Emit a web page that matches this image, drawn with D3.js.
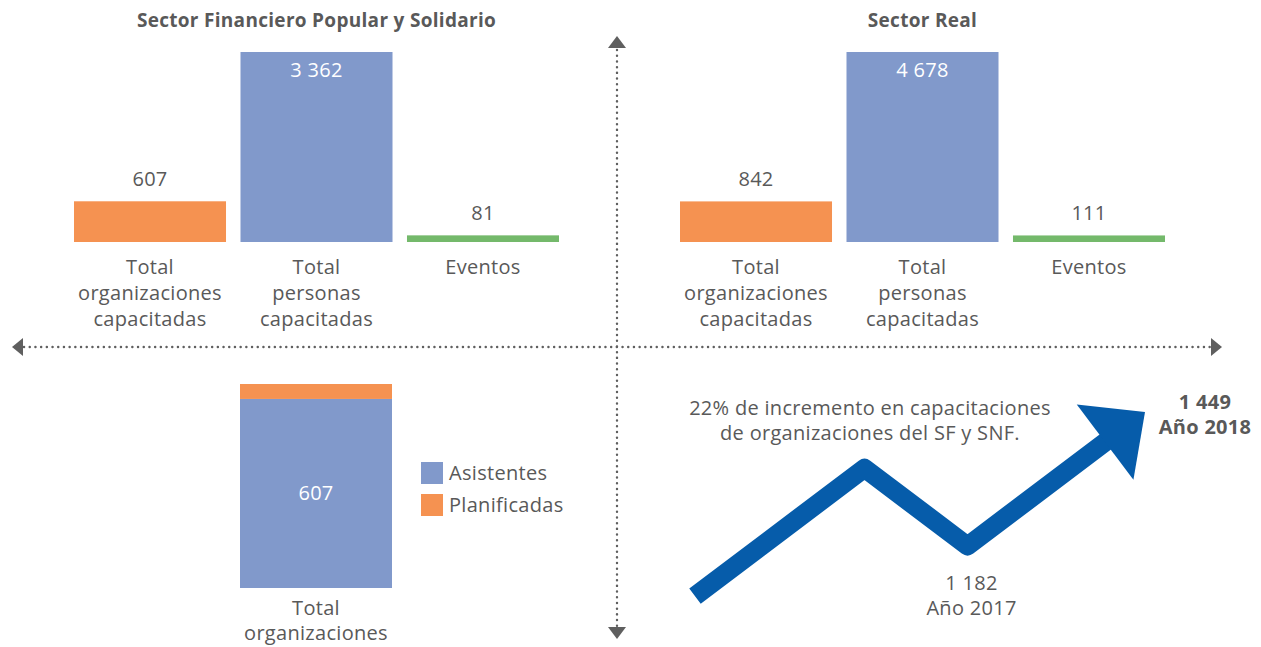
<!DOCTYPE html>
<html>
<head>
<meta charset="utf-8">
<script src="https://cdn.jsdelivr.net/npm/d3@7"></script>
<style>
  body { margin: 0; background: #fff; }
  text { font-family: "Open Sans", "Noto Sans", sans-serif; fill: #595959; letter-spacing: 0.3px; }
</style>
</head>
<body>
<div id="chart"></div>
<script>
// datos
const sectors = ['Sector Financiero Popular y Solidario', 'Sector Real'];
const categories = ['Total organizaciones capacitadas', 'Total personas capacitadas', 'Eventos'];
const categoryLines = [['Total', 'organizaciones', 'capacitadas'], ['Total', 'personas', 'capacitadas'], ['Eventos']];
const sfpsValues = [607, 3362, 81];
const realValues = [842, 4678, 111];
const barColors = ['#f59251', '#8199cb', '#74b96b'];

const stackSeries = ['Asistentes', 'Planificadas'];
const stackValues = [607, 655];
const stackColors = ['#8199cb', '#f59251'];
const stackLabel = ['Total', 'organizaciones'];

const trendValues = [1082, 1337, 1182, 1449];
const trendYears = ['', '', 'Año 2017', 'Año 2018'];
const trendNote = ['22% de incremento en capacitaciones', 'de organizaciones del SF y SNF.'];

const width = 1261;
const height = 647;
const fs = '20px';
const fmt = d3.formatLocale({ decimal: ',', thousands: ' ', grouping: [3], currency: ['$', ''] }).format(',');

const svg = d3.select('#chart')
  .append('svg')
  .attr('width', width)
  .attr('height', height);

// ejes punteados
const axisColor = '#5f5f5f';
const cx = 617, cy = 347;
svg.append('line')
  .attr('x1', 24).attr('x2', 1210).attr('y1', cy).attr('y2', cy)
  .attr('stroke', axisColor).attr('stroke-width', 2.4)
  .attr('stroke-linecap', 'round').attr('stroke-dasharray', '0.1 5.6');
svg.append('line')
  .attr('x1', cx).attr('x2', cx).attr('y1', 50).attr('y2', 626)
  .attr('stroke', axisColor).attr('stroke-width', 2.4)
  .attr('stroke-linecap', 'round').attr('stroke-dasharray', '0.1 5.6');

const heads = [
  [[12, cy], [23, cy - 9], [23, cy + 9]],
  [[1222, cy], [1211, cy - 9], [1211, cy + 9]],
  [[cx, 36], [cx - 9, 48], [cx + 9, 48]],
  [[cx, 639], [cx - 9, 627], [cx + 9, 627]]
];
svg.selectAll('.head')
  .data(heads)
  .enter()
  .append('path')
  .attr('class', 'head')
  .attr('d', d => 'M' + d.join('L') + 'Z')
  .attr('fill', axisColor);

// paneles superiores
const baseline = 242;
const panels = [
  { title: sectors[0], values: sfpsValues, range: [74, 559] },
  { title: sectors[1], values: realValues, range: [680, 1165] }
];

panels.forEach(p => {
  const x = d3.scaleBand().domain(categories).range(p.range).paddingInner(0.087);
  const h = d3.scalePow().exponent(0.9).domain([0, d3.max(p.values)]).range([0, 190]);
  const g = svg.append('g');

  g.append('text')
    .attr('x', (p.range[0] + p.range[1]) / 2)
    .attr('y', 27)
    .attr('text-anchor', 'middle')
    .style('font-size', '19px')
    .style('font-weight', 700)
    .text(p.title);

  const rows = categories.map((c, i) => ({ cat: c, value: p.values[i], color: barColors[i], lines: categoryLines[i] }));

  g.selectAll('rect')
    .data(rows)
    .enter()
    .append('rect')
    .attr('x', d => x(d.cat))
    .attr('width', x.bandwidth())
    .attr('y', d => baseline - h(d.value))
    .attr('height', d => h(d.value))
    .attr('fill', d => d.color);

  g.selectAll('.val')
    .data(rows)
    .enter()
    .append('text')
    .attr('class', 'val')
    .attr('x', d => x(d.cat) + x.bandwidth() / 2)
    .attr('y', d => d.value === d3.max(p.values) ? baseline - h(d.value) + 25 : baseline - h(d.value) - 15)
    .attr('text-anchor', 'middle')
    .style('font-size', fs)
    .style('fill', d => d.value === d3.max(p.values) ? '#fff' : '#595959')
    .text(d => fmt(d.value));

  const lab = g.selectAll('.cat')
    .data(rows)
    .enter()
    .append('text')
    .attr('class', 'cat')
    .attr('text-anchor', 'middle')
    .style('font-size', fs);
  lab.selectAll('tspan')
    .data(d => d.lines.map(l => ({ l, x: x(d.cat) + x.bandwidth() / 2 })))
    .enter()
    .append('tspan')
    .attr('x', d => d.x)
    .attr('y', (d, i) => 274 + i * 26)
    .text(d => d.l);
});

// barra apilada
const sy = d3.scaleLinear().domain([0, stackValues[1]]).range([588, 384]);
const sg = svg.append('g');
const stackRows = [
  { key: stackSeries[0], y0: 0, y1: stackValues[0], color: stackColors[0] },
  { key: stackSeries[1], y0: stackValues[0], y1: stackValues[1], color: stackColors[1] }
];
sg.selectAll('rect')
  .data(stackRows)
  .enter()
  .append('rect')
  .attr('x', 240)
  .attr('width', 152)
  .attr('y', d => sy(d.y1))
  .attr('height', d => sy(d.y0) - sy(d.y1))
  .attr('fill', d => d.color);

sg.append('text')
  .attr('x', 316)
  .attr('y', (sy(0) + sy(stackValues[0])) / 2 + 7)
  .attr('text-anchor', 'middle')
  .style('font-size', fs)
  .style('fill', '#fff')
  .text(fmt(stackValues[0]));

sg.append('text')
  .attr('text-anchor', 'middle')
  .style('font-size', fs)
  .selectAll('tspan')
  .data(stackLabel)
  .enter()
  .append('tspan')
  .attr('x', 316)
  .attr('y', (d, i) => 615 + i * 25)
  .text(d => d);

const legend = sg.selectAll('.leg')
  .data(stackSeries)
  .enter()
  .append('g')
  .attr('class', 'leg')
  .attr('transform', (d, i) => `translate(421, ${462 + i * 32})`);
legend.append('rect')
  .attr('width', 22).attr('height', 22)
  .attr('fill', (d, i) => stackColors[i]);
legend.append('text')
  .attr('x', 28).attr('y', 18)
  .style('font-size', fs)
  .text(d => d);

// flecha de tendencia
const steps = [0];
for (let i = 1; i < trendValues.length; i++) {
  steps.push(steps[i - 1] + Math.abs(trendValues[i] - trendValues[i - 1]));
}
const tx = d3.scaleLinear().domain([0, d3.max(steps)]).range([695, 1145]);
const ty = d3.scaleLinear().domain([1182, 1449]).range([546, 412]);
const pts = trendValues.map((v, i) => [tx(steps[i]), ty(v)]);

const tip = pts[pts.length - 1];
const prev = pts[pts.length - 2];
const len = Math.hypot(tip[0] - prev[0], tip[1] - prev[1]);
const ux = (tip[0] - prev[0]) / len, uy = (tip[1] - prev[1]) / len;
const headLen = 50, headHalf = 47;
const base = [tip[0] - ux * headLen, tip[1] - uy * headLen];
const linePts = pts.slice(0, -1).concat([[base[0] + ux * 4, base[1] + uy * 4]]);

const arrowColor = '#065caa';
svg.append('path')
  .attr('d', d3.line()(linePts))
  .attr('fill', 'none')
  .attr('stroke', arrowColor)
  .attr('stroke-width', 19)
  .attr('stroke-linejoin', 'round')
  .attr('stroke-linecap', 'butt');
svg.append('path')
  .attr('d', 'M' + [tip, [base[0] - uy * headHalf, base[1] + ux * headHalf], [base[0] + uy * headHalf, base[1] - ux * headHalf]].join('L') + 'Z')
  .attr('fill', arrowColor);

svg.append('text')
  .attr('text-anchor', 'middle')
  .style('font-size', fs)
  .selectAll('tspan')
  .data(trendNote)
  .enter()
  .append('tspan')
  .attr('x', 870)
  .attr('y', (d, i) => 415 + i * 25)
  .text(d => d);

// etiquetas 2017 / 2018
const v17 = 2, v18 = 3;
svg.append('text')
  .attr('text-anchor', 'middle')
  .style('font-size', fs)
  .selectAll('tspan')
  .data([fmt(trendValues[v17]), trendYears[v17]])
  .enter()
  .append('tspan')
  .attr('x', pts[v17][0] + 4)
  .attr('y', (d, i) => 590 + i * 25)
  .text(d => d);

svg.append('text')
  .attr('text-anchor', 'middle')
  .style('font-size', fs)
  .style('font-weight', 700)
  .selectAll('tspan')
  .data([fmt(trendValues[v18]), trendYears[v18]])
  .enter()
  .append('tspan')
  .attr('x', pts[v18][0] + 60)
  .attr('y', (d, i) => 409 + i * 25)
  .text(d => d);
</script>
</body>
</html>
